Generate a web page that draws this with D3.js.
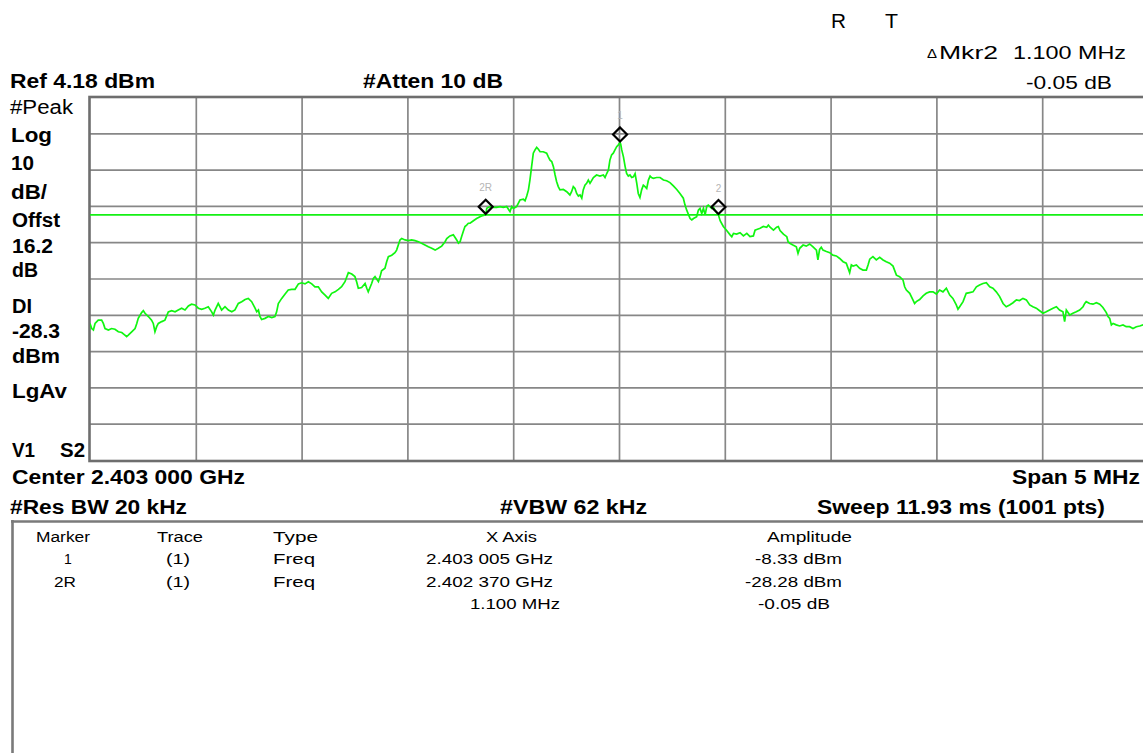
<!DOCTYPE html>
<html>
<head>
<meta charset="utf-8">
<script src="https://cdn.jsdelivr.net/npm/d3@7"></script>
<style>
  body { margin: 0; background: #fff; overflow: hidden; }
  text { font-family: "Liberation Sans", Arial, sans-serif; }
</style>
</head>
<body>
<script>
// analyzer settings
const refLevel = 4.18;      // dBm, top of screen
const dbPerDiv = 10;
const spanMHz = 5;
const displayLine = -28.3;  // dBm

// trace: offset from center (MHz) and level (dBm)
const traceOffsetMHz = [
  -2.500, -2.492, -2.484, -2.476, -2.461, -2.445, -2.437, -2.429, -2.413, -2.398,
  -2.382, -2.366, -2.350, -2.335, -2.327, -2.319, -2.303, -2.287, -2.279, -2.272,
  -2.256, -2.248, -2.240, -2.224, -2.209, -2.201, -2.193, -2.185, -2.177, -2.161,
  -2.146, -2.130, -2.114, -2.098, -2.083, -2.067, -2.051, -2.035, -2.020, -2.004,
  -1.988, -1.972, -1.957, -1.941, -1.925, -1.917, -1.909, -1.894, -1.878, -1.862,
  -1.846, -1.830, -1.815, -1.799, -1.783, -1.767, -1.752, -1.736, -1.720, -1.712,
  -1.704, -1.697, -1.689, -1.673, -1.657, -1.641, -1.626, -1.618, -1.610, -1.594,
  -1.578, -1.563, -1.547, -1.531, -1.515, -1.500, -1.484, -1.468, -1.452, -1.437,
  -1.421, -1.405, -1.389, -1.374, -1.358, -1.342, -1.326, -1.311, -1.295, -1.279,
  -1.263, -1.248, -1.240, -1.232, -1.216, -1.200, -1.192, -1.185, -1.169, -1.161,
  -1.153, -1.137, -1.129, -1.122, -1.106, -1.098, -1.090, -1.074, -1.059, -1.051,
  -1.043, -1.035, -1.027, -1.011, -0.996, -0.980, -0.964, -0.948, -0.933, -0.917,
  -0.901, -0.885, -0.869, -0.854, -0.838, -0.822,
  -0.814, -0.799, -0.783, -0.767, -0.759, -0.751, -0.744, -0.736, -0.728, -0.720,
  -0.712, -0.704, -0.688, -0.673, -0.657, -0.649, -0.630, -0.625, -0.610, -0.594,
  -0.578, -0.562, -0.547, -0.531, -0.515, -0.507, -0.499, -0.484, -0.476, -0.468,
  -0.452, -0.444, -0.436, -0.428, -0.421, -0.413, -0.405, -0.397, -0.389, -0.381,
  -0.373, -0.358, -0.342, -0.334, -0.326, -0.318, -0.310, -0.302, -0.295, -0.287,
  -0.279, -0.263, -0.247, -0.232, -0.224, -0.216, -0.208, -0.200, -0.192, -0.184,
  -0.176, -0.169, -0.161, -0.153, -0.145, -0.137, -0.121, -0.106, -0.090, -0.074,
  -0.066, -0.058, -0.050, -0.043, -0.035, -0.027, -0.019, -0.011, -0.003, 0.005,
  0.008, 0.013, 0.021, 0.029, 0.036, 0.044, 0.052, 0.060, 0.068, 0.076,
  0.084, 0.091, 0.099, 0.107, 0.115, 0.123, 0.131, 0.139, 0.147, 0.154,
  0.162, 0.178, 0.194, 0.210, 0.225, 0.241, 0.257, 0.273, 0.288, 0.304,
  0.312, 0.320, 0.336, 0.344, 0.352, 0.367, 0.375, 0.383, 0.391, 0.399,
  0.407, 0.415, 0.422, 0.430, 0.438, 0.446, 0.454, 0.470, 0.478, 0.493,
  0.509, 0.525, 0.533, 0.541, 0.556, 0.572, 0.588, 0.604, 0.619, 0.635,
  0.643, 0.651, 0.667, 0.682, 0.698, 0.706, 0.714, 0.730, 0.745, 0.753,
  0.761, 0.777, 0.793,
  0.799, 0.807, 0.822, 0.838, 0.846, 0.854, 0.870, 0.885, 0.901, 0.917,
  0.933, 0.940, 0.948, 0.956, 0.964, 0.980, 0.996, 1.011, 1.027, 1.043,
  1.059, 1.074, 1.090, 1.098, 1.106, 1.122, 1.137, 1.153, 1.169, 1.177,
  1.185, 1.200, 1.216, 1.232, 1.248, 1.263, 1.279, 1.295, 1.311, 1.326,
  1.342, 1.350, 1.358, 1.374, 1.389, 1.397, 1.405, 1.421, 1.437, 1.452,
  1.468, 1.484, 1.500, 1.515, 1.531, 1.547, 1.563, 1.578, 1.594, 1.602,
  1.610, 1.626, 1.641, 1.657, 1.673, 1.689, 1.704, 1.720, 1.736, 1.752,
  1.767, 1.783, 1.799, 1.815, 1.830, 1.846, 1.862, 1.878, 1.893, 1.909,
  1.925, 1.941, 1.956, 1.972, 1.988, 2.004, 2.019, 2.035, 2.051, 2.067,
  2.082, 2.098, 2.106, 2.114, 2.130, 2.145, 2.161, 2.177, 2.193, 2.201,
  2.208, 2.224, 2.240, 2.256, 2.272, 2.287, 2.303, 2.311, 2.319, 2.327,
  2.335, 2.350, 2.366, 2.382, 2.397, 2.413, 2.429, 2.445, 2.461, 2.476,
  2.500
];
const traceLevelDbm = [
  -58.2, -59.6, -60.0, -58.2, -57.3, -57.3, -58.2, -59.6, -60.0, -59.6,
  -59.8, -60.5, -60.7, -61.4, -61.8, -61.4, -60.5, -59.6, -58.2, -56.8,
  -55.2, -54.7, -55.4, -56.3, -57.3, -58.2, -60.5, -59.1, -58.2, -57.7,
  -57.3, -55.0, -54.7, -55.0, -54.5, -54.0, -54.5, -53.4, -52.9, -53.1,
  -54.0, -54.3, -54.0, -53.6, -55.0, -55.9, -54.5, -52.7, -54.5, -53.6,
  -54.5, -55.0, -54.5, -52.7, -52.2, -51.6, -51.3, -52.2, -54.0, -55.0,
  -54.5, -56.3, -57.1, -56.8, -56.3, -56.6, -56.3, -55.0, -52.7, -51.3,
  -50.1, -49.0, -48.8, -48.8, -47.3, -47.0, -47.3, -46.7, -47.3, -48.1,
  -48.1, -49.5, -50.4, -51.3, -49.9, -49.5, -48.8, -48.1, -46.7, -44.2,
  -44.6, -45.3, -46.7, -48.5, -48.3, -47.2, -48.5, -49.5, -47.2, -45.8,
  -45.3, -46.7, -45.3, -43.7, -43.0, -41.2, -39.8, -39.4, -38.7, -38.0,
  -36.6, -35.2, -34.8, -35.2, -35.4, -35.2, -35.4, -35.7, -36.1, -36.6,
  -37.1, -37.5, -38.0, -37.5, -36.9, -35.7,
  -34.8, -34.1, -33.8, -35.2, -36.1, -35.7, -34.3, -32.9, -31.5, -31.1,
  -30.6, -30.6, -29.9, -29.3, -28.8, -28.6, -28.3, -26.5, -26.0, -26.2,
  -26.2, -26.0, -26.2, -26.0, -27.4, -26.0, -26.5, -26.0, -25.1, -24.2,
  -24.0, -24.4, -23.1, -21.4, -18.7, -15.0, -11.3, -10.4, -9.7, -10.2,
  -10.9, -10.9, -11.3, -12.3, -13.2, -13.6, -15.0, -17.3, -19.1, -20.5,
  -21.4, -21.3, -21.9, -22.8, -21.9, -20.5, -21.0, -22.4, -23.1, -22.8,
  -23.7, -21.4, -20.1, -19.6, -18.7, -19.6, -18.0, -17.3, -17.6, -17.3,
  -18.0, -16.9, -15.9, -13.2, -11.8, -11.3, -10.4, -9.5, -9.0, -8.33,
  -8.8, -10.4, -12.3, -15.0, -16.9, -17.6, -17.3, -18.0, -17.8, -16.9,
  -19.6, -22.4, -23.5, -21.4, -20.1, -20.5, -21.0, -18.7, -17.6, -18.0,
  -18.2, -18.0, -18.0, -18.7, -18.9, -19.4, -20.3, -21.3, -22.4, -23.7,
  -25.6, -27.0, -29.3, -29.7, -29.3, -28.8, -27.0, -26.5, -27.9, -26.5,
  -28.3, -25.9, -25.6, -26.0, -26.5, -26.2, -27.0, -28.33, -29.9, -31.5,
  -32.6, -33.8, -34.3, -33.4, -33.6, -33.2, -34.1, -33.4, -34.3, -34.1,
  -32.5, -32.3, -32.0, -31.5, -31.7, -31.1, -31.7, -32.5, -31.7, -31.5,
  -32.6, -33.6, -34.3,
  -35.7, -36.1, -36.6, -37.1, -38.9, -37.5, -36.6, -36.9, -36.3, -37.1,
  -38.0, -40.7, -37.8, -37.2, -38.0, -38.4, -38.7, -39.4, -39.6, -40.3,
  -41.2, -41.6, -44.2, -42.1, -42.4, -42.1, -43.0, -43.5, -43.5, -42.1,
  -40.5, -39.8, -40.7, -40.0, -40.7, -41.2, -41.6, -42.4, -44.9, -45.3,
  -46.2, -48.1, -49.0, -49.9, -51.7, -52.7, -52.2, -51.6, -50.6, -49.9,
  -49.5, -49.5, -50.1, -49.0, -49.5, -48.5, -50.4, -51.3, -53.1, -54.3,
  -53.6, -52.2, -49.9, -49.7, -49.5, -48.1, -47.6, -47.2, -47.0, -48.1,
  -48.5, -49.5, -50.8, -52.7, -53.6, -53.1, -52.5, -51.7, -51.9, -51.3,
  -51.7, -53.1, -53.6, -54.0, -54.7, -55.4, -55.0, -54.5, -54.0, -53.6,
  -54.5, -55.0, -57.7, -54.5, -55.9, -55.4, -55.0, -54.5, -53.6, -52.7,
  -52.2, -52.7, -52.9, -52.5, -52.9, -53.8, -55.2, -56.3, -56.8, -58.6,
  -58.2, -58.6, -58.9, -58.6, -59.1, -59.1, -59.6, -59.1, -58.9, -58.6,
  -59.2
];

// markers
const markerNames = ["1", "2R", "2"];
const markerOffsetMHz = [0.005, -0.630, 0.470];
const markerLevelDbm = [-8.33, -28.28, -28.33];

// marker table
const tableHeader = ["Marker", "Trace", "Type", "X Axis", "Amplitude"];
const tableRows = [
  ["1", "(1)", "Freq", "2.403 005 GHz", "-8.33 dBm"],
  ["2R", "(1)", "Freq", "2.402 370 GHz", "-28.28 dBm"],
  ["", "", "", "1.100 MHz", "-0.05 dB"]
];

// screen annotations
const sideLabels = ["#Peak", "Log", "10", "dB/", "Offst", "16.2", "dB", "DI", "-28.3", "dBm", "LgAv"];

const W = 1143, H = 753;
const plot = { left: 90, right: 1148, top: 97, bottom: 460 };

const svg = d3.select("body").append("svg")
  .attr("width", W)
  .attr("height", H);

const x = d3.scaleLinear()
  .domain([-spanMHz / 2, spanMHz / 2])
  .range([plot.left, plot.right]);

const y = d3.scaleLinear()
  .domain([refLevel - 10 * dbPerDiv, refLevel])
  .range([plot.bottom, plot.top]);

// text helper, width fitted to the screen capture
function label(s, tx, ty, w, size, weight, fill) {
  const t = svg.append("text")
    .attr("x", tx)
    .attr("y", ty)
    .attr("font-size", size)
    .attr("font-weight", weight || "normal")
    .attr("fill", fill || "#000")
    .text(s);
  if (w) t.attr("textLength", w).attr("lengthAdjust", "spacingAndGlyphs");
  return t;
}

// grid
const xGrid = d3.axisBottom(x)
  .tickValues(d3.range(1, 10).map(i => -spanMHz / 2 + i * spanMHz / 10))
  .tickSize(-(plot.bottom - plot.top))
  .tickFormat("");

svg.append("g")
  .attr("transform", `translate(0,${plot.bottom})`)
  .call(xGrid)
  .call(g => g.select(".domain").remove())
  .call(g => g.selectAll("line").attr("stroke", "#878787").attr("stroke-width", 1.7));

const yGrid = d3.axisLeft(y)
  .tickValues(d3.range(1, 10).map(i => refLevel - i * dbPerDiv))
  .tickSize(-(plot.right - plot.left))
  .tickFormat("");

svg.append("g")
  .attr("transform", `translate(${plot.left},0)`)
  .call(yGrid)
  .call(g => g.select(".domain").remove())
  .call(g => g.selectAll("line").attr("stroke", "#878787").attr("stroke-width", 1.7));

// frame
svg.append("rect")
  .attr("x", plot.left - 0.5)
  .attr("y", plot.top)
  .attr("width", plot.right - plot.left)
  .attr("height", plot.bottom - plot.top + 1)
  .attr("fill", "none")
  .attr("stroke", "#6e6e6e")
  .attr("stroke-width", 2.6);

svg.append("clipPath").attr("id", "clip")
  .append("rect")
  .attr("x", plot.left).attr("y", plot.top)
  .attr("width", plot.right - plot.left).attr("height", plot.bottom - plot.top);

// display line
svg.append("line")
  .attr("x1", plot.left).attr("x2", plot.right)
  .attr("y1", y(displayLine)).attr("y2", y(displayLine))
  .attr("stroke", "#14f014")
  .attr("stroke-width", 1.7);

// trace
const trace = traceOffsetMHz.map((f, i) => ({ f: f, v: traceLevelDbm[i] }));
const line = d3.line()
  .x(d => x(d.f))
  .y(d => y(d.v));

svg.append("path")
  .datum(trace)
  .attr("clip-path", "url(#clip)")
  .attr("d", line)
  .attr("fill", "none")
  .attr("stroke", "#10f510")
  .attr("stroke-width", 1.7)
  .attr("stroke-linejoin", "miter");

// markers: diamond sits just above the trace point
const markers = markerNames.map((n, i) => ({ name: n, f: markerOffsetMHz[i], v: markerLevelDbm[i] }));
const dsz = 7;

svg.selectAll("path.marker")
  .data(markers)
  .enter()
  .append("path")
    .attr("class", "marker")
    .attr("d", d => {
      const cx = x(d.f), cy = y(d.v) - 8;
      return `M${cx},${cy - dsz}L${cx + dsz},${cy}L${cx},${cy + dsz}L${cx - dsz},${cy}Z`;
    })
    .attr("fill", "none")
    .attr("stroke", "#000")
    .attr("stroke-width", 2.2);

svg.selectAll("text.mlabel")
  .data(markers)
  .enter()
  .append("text")
    .attr("class", "mlabel")
    .attr("x", d => x(d.f))
    .attr("y", d => y(d.v) - 23.5)
    .attr("text-anchor", "middle")
    .attr("font-size", 10)
    .attr("fill", "#b5b5b5")
    .text(d => d.name);

// top annotations
label("R", 831, 28, 15, 20);
label("T", 885, 28, 13, 20);
label("Δ", 927, 58, 10, 12);
label("Mkr2", 939, 59, 59, 18);
label("1.100 MHz", 1013, 59, 113, 18);
label("-0.05 dB", 1026, 89, 86, 18);
label("Ref 4.18 dBm", 10, 88, 145, 20, "bold");
label("#Atten 10 dB", 363, 88, 140, 20, "bold");

// left column
const sideLayout = [
  [10, 114, 63, "normal"], [11, 142, 41, "bold"], [11, 170, 23, "bold"], [11, 199, 36, "bold"],
  [12, 227, 48, "bold"], [12, 253, 41, "bold"], [12, 277, 26, "bold"], [12, 313, 20, "bold"],
  [12, 338, 48, "bold"], [12, 363, 48, "bold"], [12, 398, 55, "bold"]
];
sideLabels.forEach((s, i) => {
  const p = sideLayout[i];
  label(s, p[0], p[1], p[2], 20, p[3]);
});
label("V1", 12, 457, 23, 20, "bold");
label("S2", 60, 457, 25, 20, "bold");

// bottom annotations
label("Center 2.403 000 GHz", 12, 484, 233, 20, "bold");
label("Span 5 MHz", 1012, 484, 128, 20, "bold");
label("#Res BW 20 kHz", 10, 514, 177, 20, "bold");
label("#VBW 62 kHz", 500, 514, 147, 20, "bold");
label("Sweep 11.93 ms (1001 pts)", 817, 514, 288, 20, "bold");

// marker table box
svg.append("line")
  .attr("x1", 11).attr("x2", W)
  .attr("y1", 521.5).attr("y2", 521.5)
  .attr("stroke", "#7a7a7a").attr("stroke-width", 2.6);
svg.append("line")
  .attr("x1", 12.5).attr("x2", 12.5)
  .attr("y1", 520).attr("y2", H)
  .attr("stroke", "#7a7a7a").attr("stroke-width", 2.6);

const headerLayout = [[36, 54], [157, 46], [273, 45], [486, 51], [767, 85]];
tableHeader.forEach((s, i) => label(s, headerLayout[i][0], 542, headerLayout[i][1], 14));

const rowBase = [564, 587, 609];
const cellLayout = [
  [[64, 0], [166, 24], [273, 42], [426, 127], [755, 87]],
  [[54, 22], [166, 24], [273, 42], [426, 127], [745, 97]],
  [null, null, null, [470, 90], [758, 72]]
];
tableRows.forEach((row, r) => {
  row.forEach((s, c) => {
    const p = cellLayout[r][c];
    if (s && p) label(s, p[0], rowBase[r], p[1], 14);
  });
});
</script>
</body>
</html>
